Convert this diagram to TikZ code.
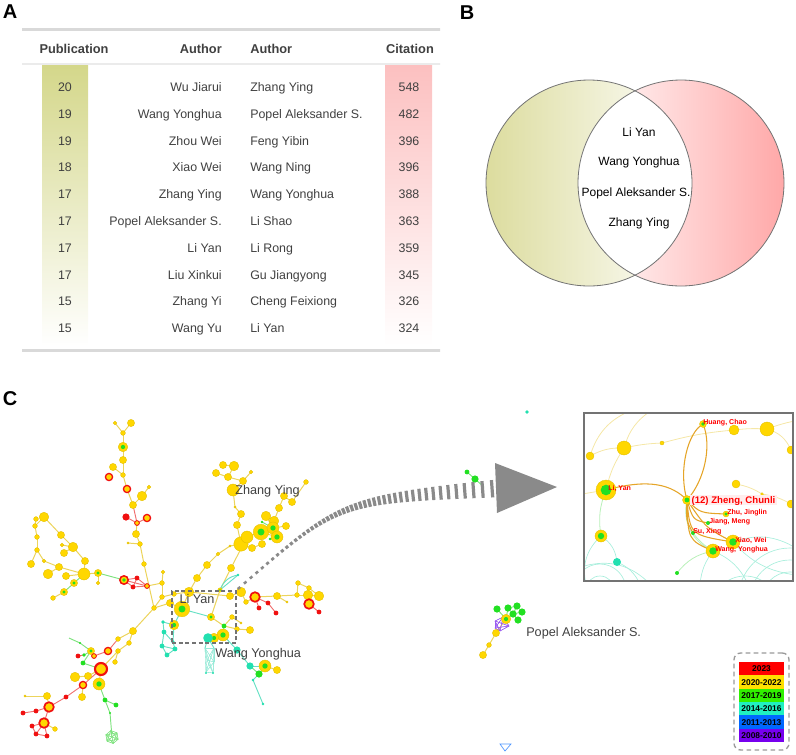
\documentclass[tikz,border=0pt]{standalone}
\usepackage{fontspec}
\setmainfont{Liberation Sans}
\definecolor{txt}{HTML}{404040}
\definecolor{colG}{HTML}{D4D78A}
\definecolor{colP}{HTML}{FCC0C0}
\definecolor{vgl}{HTML}{DCDC9E}
\definecolor{vpk}{HTML}{FFA8A8}
\definecolor{cyel}{HTML}{FFD700}
\definecolor{cyeld}{HTML}{E2BE00}
\definecolor{cred}{HTML}{F01010}
\definecolor{cgrn}{HTML}{22E022}
\definecolor{ctel}{HTML}{22E0B0}
\definecolor{eyl}{HTML}{ECD45C}
\definecolor{erd}{HTML}{F07070}
\definecolor{egr}{HTML}{7EE27E}
\definecolor{etl}{HTML}{66E0C4}
\definecolor{epu}{HTML}{9A5CF0}
\definecolor{eor}{HTML}{E5A528}
\definecolor{eiy}{HTML}{F5E7A6}
\definecolor{eit}{HTML}{A8EEDC}
\definecolor{eig}{HTML}{B8F0B8}
\definecolor{arrg}{HTML}{8A8A8A}
\definecolor{lg23}{HTML}{FF0000}
\definecolor{lg20}{HTML}{FFE000}
\definecolor{lg17}{HTML}{30F000}
\definecolor{lg14}{HTML}{20F0C0}
\definecolor{lg11}{HTML}{0068FF}
\definecolor{lg08}{HTML}{7700EE}
\begin{document}
\begin{tikzpicture}[x=0.75pt,y=-0.75pt,
  pl/.style={font=\bfseries\fontsize{15}{15}\selectfont, inner sep=0pt, text height=10.7pt, text depth=0pt},
  tbx/.style={font=\fontsize{9.3}{11}\selectfont, text=txt, inner sep=0pt, text height=6.7pt, text depth=0pt},
  thx/.style={font=\bfseries\fontsize{9.6}{11}\selectfont, text=txt, inner sep=0pt, text height=6.9pt, text depth=0pt},
  vtx/.style={font=\fontsize{9}{11}\selectfont, text=black, inner sep=0pt, text height=6.5pt, text depth=0pt},
  nlab/.style={font=\fontsize{9.5}{11}\selectfont, text=txt, inner sep=0pt, text height=6.8pt, text depth=0pt},
  ilab/.style={font=\bfseries\fontsize{5.3}{6}\selectfont, text=red, inner sep=0pt, text height=3.8pt, text depth=0pt},
  nb/.style={circle, inner sep=0pt, outer sep=0pt, minimum size=\r*1.8pt},
  nY/.style={nb, fill=cyel, draw=cyeld, line width=0.25pt},
  nYG/.style={nY, path picture={\fill[cgrn] (path picture bounding box.center) circle[radius=\r*0.4pt];}},
  nRY/.style={nb, fill=cyel, draw=cred, line width=\r*0.32pt},
  nRG/.style={nRY, path picture={\fill[cgrn] (path picture bounding box.center) circle[radius=\r*0.4pt];}},
  nR/.style={nb, fill=cred},
  nG/.style={nb, fill=cgrn},
  nT/.style={nb, fill=ctel},
  eY/.style={draw=eyl, line width=0.75pt},
  eR/.style={draw=erd, line width=0.7pt},
  eG/.style={draw=egr, line width=0.7pt},
  eT/.style={draw=etl, line width=0.7pt},
  eIY/.style={draw=eiy, line width=0.6pt},
  eIT/.style={draw=eit, line width=0.5pt},
  eIG/.style={draw=eig, line width=0.6pt},
  eO/.style={draw=eor, line width=0.8pt},
  stripe/.style={sloped, fill=arrg, inner sep=0pt, minimum width=2.4pt}
]
\useasboundingbox (0,0) rectangle (796,754);

% ---------------- panel letters
\node[pl] (lA) at (10,11) {A};
\node[pl] (lB) at (467,12) {B};
\node[pl] (lC) at (10,398) {C};

% ---------------- panel A: table
\shade[top color=colG, bottom color=white] (42,65) rectangle (88,346);
\shade[top color=colP, bottom color=white] (385,65) rectangle (432,346);
\shade[left color=black!15, middle color=black!90, right color=black!15] (22,28) rectangle (440,30);
\shade[left color=black!8, middle color=black!70, right color=black!8] (22,63.6) rectangle (440,64.6);
\shade[left color=black!15, middle color=black!90, right color=black!15] (22,349) rectangle (440,351.2);
\node[thx] (h1) at (74,49) {Publication};
\node[thx, anchor=east] (h2) at (222,49) {Author};
\node[thx, anchor=west] (h3) at (250,49) {Author};
\node[thx] (h4) at (410,49) {Citation};
\foreach \i/\p/\a/\b/\c in {1/20/Wu Jiarui/Zhang Ying/548, 2/19/Wang Yonghua/Popel Aleksander S./482,
  3/19/Zhou Wei/Feng Yibin/396, 4/18/Xiao Wei/Wang Ning/396, 5/17/Zhang Ying/Wang Yonghua/388,
  6/17/Popel Aleksander S./Li Shao/363, 7/17/Li Yan/Li Rong/359, 8/17/Liu Xinkui/Gu Jiangyong/345,
  9/15/Zhang Yi/Cheng Feixiong/326, 10/15/Wang Yu/Li Yan/324}{
  \node[tbx] (tp\i) at (65,{87+(\i-1)*26.8}) {\p};
  \node[tbx, anchor=east] (ta\i) at (222,{87+(\i-1)*26.8}) {\a};
  \node[tbx, anchor=west] (tb\i) at (250,{87+(\i-1)*26.8}) {\b};
  \node[tbx] (tc\i) at (409,{87+(\i-1)*26.8}) {\c};
}

% ---------------- panel B: Venn
\coordinate (vl) at (589,183);
\coordinate (vr) at (681,183);
\shade[left color=vgl, right color=white] (vl) circle[radius=77.25pt];
\shade[left color=white, right color=vpk] (vr) circle[radius=77.25pt];
\begin{scope}
  \clip (vl) circle[radius=77.25pt];
  \fill[white] (vr) circle[radius=77.25pt];
\end{scope}
\draw[black!55, line width=0.6pt] (vl) circle[radius=77.25pt];
\draw[black!55, line width=0.6pt] (vr) circle[radius=77.25pt];
\node[vtx] (vt1) at (639,132) {Li Yan};
\node[vtx] (vt2) at (639,161) {Wang Yonghua};
\node[vtx] (vt3) at (636,192) {Popel Aleksander S.};
\node[vtx] (vt4) at (639,222) {Zhang Ying};

% ---------------- panel C: network
\def\LY{a1/115/423/1.5, a2/131/423/3, a3/123/433/2, a5/123/460/3, a6/113/467/3, a7/123/475/2, a10/149/487/1.5, a11/142/496/4, a12/133/505/3, a16/136/534/3, a17/128/543/1, a18/140/544/2, a19/144/564/2, c0/154/608/2, b1/44/517/4, b2/36/519/2, b3/35/526/2, b4/37/537/2, b5/37/550/2, b6/31/564/3, b7/48/574/4, b8/59/567/3, b9/66/576/3, b10/61/535/3, b11/62/545/1.5, b12/73/547/4, b13/64/553/3, b14/85/561/3, b15/84/574/5, b17/98/583/1.5, b20/53/598/2, b21/44/561/1.5, c1/162/597/2, c2/163/572/1.5, c3/162/583/2, c4/170/603/3, c5/174/594/2, c6/189/592/4, d1/197/578/3, d2/207/565/3, d3/218/554/1.5, d4/231/568/3, d5/241/544/6, d6/247/537/5, d7/252/548/3, d8/262/544/3, d12/266/516/4, d13/274/521/4, d14/286/526/3, d15/279/508/3, d16/292/502/3, d17/284/496/3, d18/306/482/2, dx/230/546/1, z1/223/465/3, z2/234/466/4, z3/216/473/3, z4/228/477/3, z5/251/472/1.5, z6/243/481/3, z7/233/490/5, z8/235/507/1, z9/241/514/3, z10/237/525/3, e1/241/592/4, e2/230/596/3, e3/246/602/2, e8/277/596/3, e9/287/602/1, e10/297/595/2, e11/298/583/2, e12/309/588/2, e13/308/595/4, e14/319/596/4, w2/232/617/2, w4/241/623/1, w5/250/630/3, w6/237/629/2, w13/277/670/3, f1/133/631/3, f2/118/639/2, f3/129/643/2, f4/118/651/2, f5/115/662/2, f14/88/676/3, f15/75/677/4, f17/82/697/3, f23/47/696/3, f27/25/696/1, f32/55/729/2, p8/496/633/3, p9/489/645/2, p10/483/655/3}
\def\LYG{a4/123/447/4, b16/98/573/3, b18/74/583/3, b19/64/592/3, c7/182/609/6.5, c8/174/625/4, d9/261/532/6.5, d10/273/528/5, d11/277/537/5, w1/211/617/3, w7/223/635/5, w8/214/638/4, w12/265/666/5, f8/91/651/3, f18/99/684/5, t8/220/590/1.8, p7/506/619/4}
\def\LRY{a8/109/477/3, a9/127/489/3, a14/137/523/2, a15/147/518/3, r4/147/586/2, e4/255/597/4, e15/309/604/4, f6/108/651/3, f7/94/656/2, f13/101/669/5, f16/83/685/3, f24/49/707/4, f28/44/723/4}
\def\LRG{r1/124/580/3.5}
\def\LR{a13/126/517/3, r2/137/578/2, r3/133/587/2, e5/259/608/2, e6/268/603/2, e7/276/613/2, e16/319/612/2, f10/78/656/2, f22/66/697/2, f25/36/711/2, f26/23/713/2, f29/32/726/2, f30/36/734/2, f31/47/736/2}
\def\LG{g1/262/522/1.2, g2/270/539/1.2, w3/224/626/2, f9/84/655/1.5, f11/83/663/2, f12/80/643/1, f19/105/700/2, f20/116/705/2, f21/110/713/1, w14/259/674/3, x1/467/472/2, x2/475/479/3, p1/497/609/3, p2/508/608/3, p3/517/606/3, p4/522/612/3, p5/513/614/3, p6/518/620/3}
\def\LT{t1/163/622/1.5, t2/164/632/2, t3/162/646/2, t4/167/655/2, t5/175/649/2, t6/173/642/1.5, t7/238/575/1.2, w9/208/638/4, w10/237/650/3, w11/250/666/3, w15/253/680/1.2, w16/263/704/1.2, x3/527/412/1.5, tn1/206/673/1, tn2/213/673/1}

\def\mkc#1{\foreach \n/\x/\y/\r in #1 {\coordinate (\n) at (\x,\y);}}
\mkc\LY \mkc\LYG \mkc\LRY \mkc\LRG \mkc\LR \mkc\LG \mkc\LT
\coordinate (fe) at (69,638);
\coordinate (gm) at (112,737);
\coordinate (x4) at (484,487);
\foreach \k in {0,...,5}{\path (gm) ++(\k*60+20:6.5) coordinate (gm\k);}
\foreach \k/\x/\y in {1/205/648, 2/214/648, 3/207/660, 4/214/662, 5/206/672, 6/213/673}{\coordinate (tm\k) at (\x,\y);}
\foreach \k/\x/\y in {1/495/621, 2/503/617, 3/509/626, 4/500/631, 5/495/628}{\coordinate (q\k) at (\x,\y);}

% edges
\foreach \a/\b in {a1/a3, a2/a3, a3/a4, a4/a5, a5/a7, a6/a7, a7/a9, a9/a12, a10/a11, a11/a12, a14/a16, a16/a18, a17/a18, a18/a19, a19/c0,
  b1/b3, b2/b3, b3/b4, b4/b5, b5/b6, b5/b21, b21/b8, b7/b8, b8/b15, b9/b15, b1/b10, b10/b12, b11/b12, b13/b12, b12/b14, b14/b15, b15/b16, b16/b17, b19/b20,
  c0/c1, c1/c3, c2/c3, r4/c3, c1/c5, c5/c6, c0/c4, c4/c7, c7/c6, c6/d1, d1/d2, d2/d3, d3/dx, dx/d5, d5/d6, d5/d7, d6/d9, d7/d8, d9/d10, d9/d11, d10/d12, d12/d13, d13/d15, d15/d17, d17/d16, d16/d18, d10/d14,
  d5/z10, z10/z9, z9/z8, z8/z7, z7/z6, z6/z5, z6/z4, z4/z3, z4/z2, z2/z1, d4/d6, d4/t8, t8/w1,
  c6/e2, e2/e1, e1/e3, e3/e4, e4/e8, e8/e9, e8/e10, e10/e13, e13/e14, e10/e11, e11/e12, e12/e14, e13/e15,
  w1/w3, w3/w2, w2/w4, w3/w6, w6/w5, w12/w13,
  c0/f1, f1/f2, f1/f3, f3/f4, f4/f5, f4/f13, f13/f14, f13/f18, f14/f15, f16/f17, f24/f23, f23/f27, f28/f32,
  p7/p8, p8/p9, p9/p10}{\draw[eY] (\a) -- (\b);}
\foreach \a/\b in {a12/a14, a13/a14, a15/a14, r1/r2, r1/r3, r2/r4, r3/r4, r2/r3, r1/r4, e4/e5, e4/e6, e6/e7, e15/e16,
  f2/f6, f6/f7, f9/f10, f13/f16, f16/f22, f22/f24, f24/f25, f25/f26, f24/f28, f28/f29, f28/f30, f28/f31, f29/f30, f30/f31}{\draw[eR] (\a) -- (\b);}
\foreach \a/\b in {b16/r1, b18/b15, b19/b18, f7/f8, f8/f9, f8/f11, f8/f12, f12/fe, f11/f13, f18/f19, f19/f20, f19/f21, f21/gm,
  g1/d10, g2/d11, w3/w7, w7/w8, w11/w14, w12/w14, x1/x2, x2/x4, p2/p7, p5/p7, p1/p7, p3/p5, p4/p5, p6/p5, p2/p3}{\draw[eG] (\a) -- (\b);}
\foreach \a/\b in {c7/w1, c8/t1, t1/t2, t2/t6, t6/t5, t2/t3, t3/t4, t4/t5, t3/t5, c8/t6, c7/c8, w8/w9, w7/w10, w10/w11, w11/w12,
  w14/w15, w15/w16, t8/t7, w9/tm1, w9/tm2}{\draw[eT] (\a) -- (\b);}
\draw[eT] (t8) to[bend left=30] (t7);
\foreach \i in {0,...,5}{\foreach \j in {0,...,5}{\draw[draw=egr, line width=0.3pt] (gm\i) -- (gm\j);}}
\foreach \i in {1,...,6}{\foreach \j in {1,...,6}{\draw[draw=etl!70, line width=0.25pt] (tm\i) -- (tm\j);}}
\foreach \i in {1,...,5}{\foreach \j in {1,...,5}{\draw[draw=epu, line width=0.35pt] (q\i) -- (q\j);}}

% nodes
\foreach \n/\x/\y/\r in \LY {\node[nY] (v-\n) at (\n) {};}
\foreach \n/\x/\y/\r in \LYG {\node[nYG] (v-\n) at (\n) {};}
\foreach \n/\x/\y/\r in \LRY {\node[nRY] (v-\n) at (\n) {};}
\foreach \n/\x/\y/\r in \LRG {\node[nRG] (v-\n) at (\n) {};}
\foreach \n/\x/\y/\r in \LR {\node[nR] (v-\n) at (\n) {};}
\foreach \n/\x/\y/\r in \LG {\node[nG] (v-\n) at (\n) {};}
\foreach \n/\x/\y/\r in \LT {\node[nT] (v-\n) at (\n) {};}

% blue little mark
\coordinate (bl1) at (500,744);
\coordinate (bl2) at (511,744);
\coordinate (bl3) at (505,751);
\draw[draw=lg11!70, line width=0.5pt] (bl1) -- (bl2) -- (bl3) -- cycle;

% labels
\node[draw=black!55, dashed, dash pattern=on 3pt off 2pt, line width=0.9pt, minimum width=48pt, minimum height=39pt, inner sep=0pt] (liybox) at (204,617) {};
\node[nlab] (lZhang) at (267.5,490) {Zhang Ying};
\node[nlab] (lLi) at (197,599) {Li Yan};
\node[nlab, anchor=west] (lWang) at (215,653) {Wang Yonghua};
\node[nlab, anchor=west] (lPopel) at (526,632) {Popel Aleksander S.};

% striped arrow
\coordinate (as) at (239,588);
\coordinate (ac) at (340,500);
\coordinate (ae) at (502,488);
\foreach \k in {0,...,48}{
  \pgfmathsetmacro\stp{\k/48}
  \path (as) .. controls (ac) .. (ae) node[stripe, pos=\stp, minimum height={(2.5+15.5*\stp*\stp)*0.75pt}] (st\k) {};
}
\coordinate (ah1) at (495,463);
\coordinate (ah2) at (557,487);
\coordinate (ah3) at (497,513);
\fill[arrg] (ah1) -- (ah2) -- (ah3) -- cycle;

% ---------------- inset
\def\LIY{i1/734/430/5, i2/767/429/7, i3/791/450/4, i4/624/448/7, i5/662/443/2, i6/590/456/4, i7/736/484/4, i8/762/494/1.5, i9/791/504/4}
\def\LIYG{ihu/703/424/3.5, ili/606/490/10, izh/687/500/4.5, izu/726/514/3, ixi/733/542/7, iwa/713/551/7, i10/601/536/6}
\def\LIG{iji/708/523/2, isu/693/533/2, i12/677/573/2}
\def\LIT{i11/617/562/4}
\begin{scope}
\clip (584,413) rectangle (793,581);
\mkc\LIY \mkc\LIYG \mkc\LIG \mkc\LIT
\foreach \k/\x/\y in {e1/800/420, e2/632/410, e3/652/410, e4/582/494, e5/586/584, e7/650/584, e8/640/584, e9/748/584, e10/700/584, e11/796/548, e12/796/575, e13/584/566}{\coordinate (i\k) at (\x,\y);}
\draw[eIY] (i6) to[bend left=15] (i4);
\draw[eIY] (i4) to[bend left=5] (i5);
\draw[eIY] (i5) to[bend left=5] (i1);
\draw[eIY] (i1) to[bend left=5] (i2);
\draw[eIY] (i2) to[bend left=5] (ie1);
\draw[eIY] (i2) to[bend left=25] (i3);
\draw[eIY] (ie2) to[bend right=25] (i6);
\draw[eIY] (ie3) to[bend right=20] (i4);
\draw[eIY] (i4) to[bend right=10] (ili);
\draw[eIY] (ili) -- (ie4);
\draw[eIY] (i7) to[bend left=10] (i8);
\draw[eIY] (i8) to[bend left=10] (i9);
\draw[eIG] (ili) to[bend right=15] (i10);
\draw[eIT] (i10) to[bend right=30] (ie5);
\draw[eIT] (i10) to[bend left=25] (i11);
\draw[eIT] (ie13) to[bend left=30] (ie7);
\draw[eIT] (i11) to[bend left=20] (ie8);
\draw[eIT] (iwa) to[bend left=20] (ie9);
\draw[eIT] (iwa) to[bend right=15] (ie10);
\draw[eIT] (ixi) to[bend left=25] (ie11);
\draw[eIT] (ixi) to[bend right=20] (ie12);
\foreach \rr in {16,28,40,52}{\draw[eIT] (790,600) circle[radius=\rr*0.75pt];}
\foreach \rr in {20,34}{\draw[eIT] (745,610) circle[radius=\rr*0.75pt];}
\foreach \rr in {14,26}{\draw[eIT] (600,590) circle[radius=\rr*0.75pt];}
\draw[eIG] (izh) to[bend right=40] (iwa);
\draw[eIG] (i12) to[bend left=20] (iwa);
\draw[eIG] (isu) to[bend right=10] (iwa);
\draw[eO] (izh) .. controls (678,470) and (688,432) .. (ihu);
\draw[eO] (izh) .. controls (705,480) and (712,445) .. (ihu);
\draw[eO] (ili) .. controls (650,478) and (672,485) .. (izh);
\draw[eO] (izh) .. controls (700,513) .. (izu);
\draw[eO] (izh) .. controls (693,520) .. (iji);
\draw[eO] (izh) .. controls (686,520) .. (isu);
\draw[eO] (izh) .. controls (690,535) .. (ixi);
\draw[eO] (izh) .. controls (706,528) .. (ixi);
\draw[eO] (izh) .. controls (688,540) .. (iwa);
\begin{scope}[nb/.style={circle, inner sep=0pt, outer sep=0pt, minimum size=\r*1.5pt}]
\foreach \n/\x/\y/\r in \LIY {\node[nY] (v-\n) at (\n) {};}
\foreach \n/\x/\y/\r in \LIYG {\node[nYG] (v-\n) at (\n) {};}
\foreach \n/\x/\y/\r in \LIG {\node[nG] (v-\n) at (\n) {};}
\foreach \n/\x/\y/\r in \LIT {\node[nT] (v-\n) at (\n) {};}
\end{scope}
\node[ilab, anchor=west] (lhu) at (703,422) {Huang, Chao};
\node[ilab, anchor=west] (lli) at (608,488) {Li, Yan};
\node[ilab, anchor=west, font=\bfseries\fontsize{7.2}{8}\selectfont, text height=5.2pt, fill=red!7, inner sep=1pt] (lzh) at (690,500) {(12) Zheng, Chunli};
\node[ilab, anchor=west] (lzu) at (727,512) {Zhu, Jinglin};
\node[ilab, anchor=west] (lji) at (709,521) {Jiang, Meng};
\node[ilab, anchor=west] (lsu) at (693,531) {Su, Xing};
\node[ilab, anchor=west] (lxi) at (735,540) {Xiao, Wei};
\node[ilab, anchor=west] (lwa) at (715,549) {Wang, Yonghua};
\end{scope}
\node[draw=black!55, line width=1pt, minimum width=156.75pt, minimum height=126pt, inner sep=0pt] (inset) at (688.5,497) {};

% ---------------- legend
\node[draw=black!40, line width=1pt, dash pattern=on 3.5pt off 2.5pt, rounded corners=5pt, minimum width=41.25pt, minimum height=72.75pt, inner sep=0pt] (legbox) at (761.5,701.5) {};
\foreach \k/\c/\t in {0/lg23/2023, 1/lg20/2020-2022, 2/lg17/2017-2019, 3/lg14/2014-2016, 4/lg11/2011-2013, 5/lg08/2008-2010}{
  \node[fill=\c, minimum width=33.75pt, minimum height=10pt, inner sep=0pt, text height=4.5pt, text depth=0pt, font=\bfseries\fontsize{6.3}{7}\selectfont] (leg\k) at (761.5,{668.7+13.33*\k}) {\t};
}
\end{tikzpicture}
\end{document}
